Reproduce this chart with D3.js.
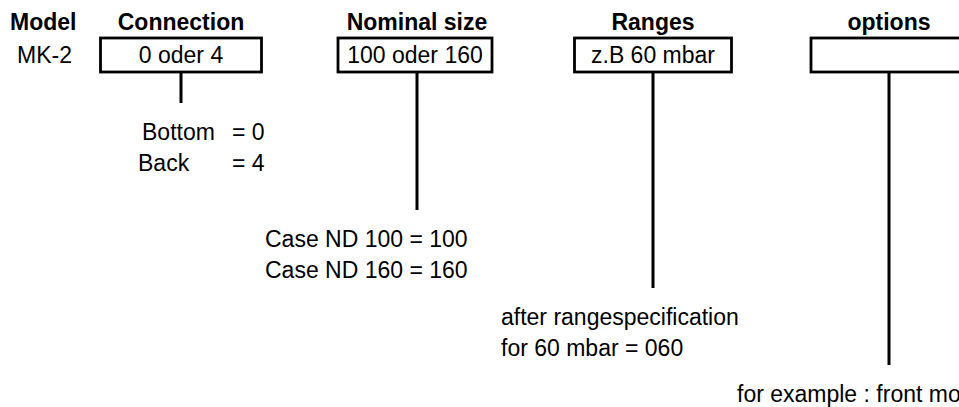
<!DOCTYPE html>
<html>
<head>
<meta charset="utf-8">
<script src="https://cdn.jsdelivr.net/npm/d3@7/dist/d3.min.js"></script>
<style>
  html, body { margin: 0; padding: 0; background: #fff; }
  svg { display: block; font-family: "Liberation Sans", Arial, sans-serif; }
  text { white-space: pre; }
</style>
</head>
<body>
<svg id="chart" width="959" height="407"></svg>
<script>
// ---- data ----
const modelHeader = "Model";
const modelName = "MK-2";
const columns = ["Connection", "Nominal size", "Ranges", "options"];
const boxLabels = ["0 oder 4", "100 oder 160", "z.B 60 mbar", ""];
const notes = [
  ["Bottom\t= 0", "Back\t= 4"],
  ["Case ND 100 = 100", "Case ND 160 = 160"],
  ["after rangespecification", "for 60 mbar = 060"],
  ["for example : front mounting flange"]
];

// ---- layout ----
const fs = 23;
const svg = d3.select("#chart");
const x = d3.scalePoint().domain(columns).range([181, 889]);
const boxW = [161, 154, 157, 156];
const boxShift = [0, -2, 0, 0];
const boxTop = 38, boxBot = 72;
const lineEnds = [103, 210, 288, 365];

// model column
svg.append("text").attr("x", 10).attr("y", 30)
  .attr("font-size", fs).attr("font-weight", "bold").text(modelHeader);
svg.append("text").attr("x", 17).attr("y", 63)
  .attr("font-size", fs).text(modelName);

const col = svg.selectAll("g.col").data(columns).join("g").attr("class", "col");

col.append("text")
  .attr("x", d => x(d)).attr("y", 30)
  .attr("text-anchor", "middle")
  .attr("font-size", fs).attr("font-weight", "bold")
  .text(d => d);

col.append("rect")
  .attr("x", (d, i) => x(d) + boxShift[i] - boxW[i] / 2)
  .attr("y", boxTop)
  .attr("width", (d, i) => boxW[i])
  .attr("height", boxBot - boxTop)
  .attr("fill", "none").attr("stroke", "#000").attr("stroke-width", 2.8);

col.append("text")
  .attr("x", (d, i) => x(d) + boxShift[i]).attr("y", 63)
  .attr("text-anchor", "middle")
  .attr("font-size", fs)
  .text((d, i) => boxLabels[i]);

col.append("line")
  .attr("x1", d => x(d)).attr("x2", d => x(d))
  .attr("y1", boxBot).attr("y2", (d, i) => lineEnds[i])
  .attr("stroke", "#000").attr("stroke-width", 3);

// notes
columns.forEach((c, i) => {
  const cx = x(c);
  const y0 = lineEnds[i] + 37;
  notes[i].forEach((s, j) => {
    const parts = s.split("\t");
    const y = y0 + j * 31;
    if (parts.length === 2) {
      svg.append("text").attr("x", cx - (j === 0 ? 39 : 43)).attr("y", y)
        .attr("font-size", fs).text(parts[0]);
      svg.append("text").attr("x", cx + 51).attr("y", y)
        .attr("font-size", fs).text(parts[1]);
    } else {
      svg.append("text").attr("x", cx - 152).attr("y", y)
        .attr("font-size", fs).text(s);
    }
  });
});
</script>
</body>
</html>
